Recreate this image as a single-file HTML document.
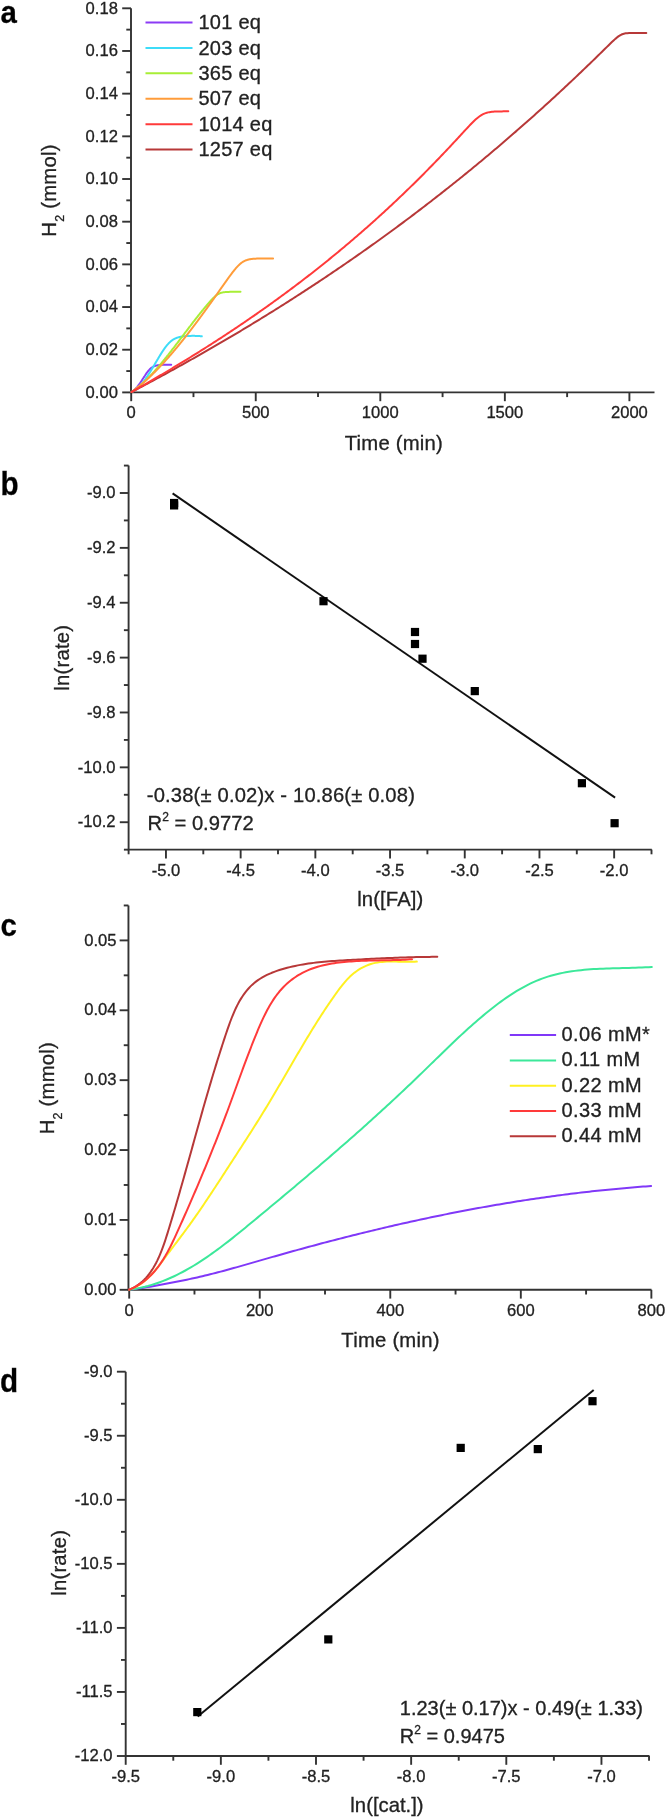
<!DOCTYPE html>
<html><head><meta charset="utf-8"><style>
html,body{margin:0;padding:0;background:#fff;}
svg{display:block;font-family:"Liberation Sans", sans-serif;will-change:transform;}
text{stroke:#222;stroke-width:0.3px;}
</style></head><body>
<svg width="666" height="1818" viewBox="0 0 666 1818">
<rect width="666" height="1818" fill="#fff"/>
<path d="M131.00 8.30 L131.00 392.40 L654.50 392.40" fill="none" stroke="#333" stroke-width="1.90" stroke-linejoin="miter"/>
<line x1="131.20" y1="392.40" x2="131.20" y2="401.20" stroke="#333" stroke-width="1.90"/>
<text x="131.20" y="418.40" font-size="16.60" text-anchor="middle" font-weight="normal" fill="#222" >0</text>
<line x1="255.75" y1="392.40" x2="255.75" y2="401.20" stroke="#333" stroke-width="1.90"/>
<text x="255.75" y="418.40" font-size="16.60" text-anchor="middle" font-weight="normal" fill="#222" >500</text>
<line x1="380.30" y1="392.40" x2="380.30" y2="401.20" stroke="#333" stroke-width="1.90"/>
<text x="380.30" y="418.40" font-size="16.60" text-anchor="middle" font-weight="normal" fill="#222" >1000</text>
<line x1="504.85" y1="392.40" x2="504.85" y2="401.20" stroke="#333" stroke-width="1.90"/>
<text x="504.85" y="418.40" font-size="16.60" text-anchor="middle" font-weight="normal" fill="#222" >1500</text>
<line x1="629.40" y1="392.40" x2="629.40" y2="401.20" stroke="#333" stroke-width="1.90"/>
<text x="629.40" y="418.40" font-size="16.60" text-anchor="middle" font-weight="normal" fill="#222" >2000</text>
<line x1="193.47" y1="392.40" x2="193.47" y2="397.10" stroke="#333" stroke-width="1.90"/>
<line x1="318.02" y1="392.40" x2="318.02" y2="397.10" stroke="#333" stroke-width="1.90"/>
<line x1="442.57" y1="392.40" x2="442.57" y2="397.10" stroke="#333" stroke-width="1.90"/>
<line x1="567.12" y1="392.40" x2="567.12" y2="397.10" stroke="#333" stroke-width="1.90"/>
<line x1="122.20" y1="392.40" x2="131.00" y2="392.40" stroke="#333" stroke-width="1.90"/>
<text x="117.90" y="397.60" font-size="16.60" text-anchor="end" font-weight="normal" fill="#222" >0.00</text>
<line x1="122.20" y1="349.72" x2="131.00" y2="349.72" stroke="#333" stroke-width="1.90"/>
<text x="117.90" y="354.92" font-size="16.60" text-anchor="end" font-weight="normal" fill="#222" >0.02</text>
<line x1="122.20" y1="307.04" x2="131.00" y2="307.04" stroke="#333" stroke-width="1.90"/>
<text x="117.90" y="312.24" font-size="16.60" text-anchor="end" font-weight="normal" fill="#222" >0.04</text>
<line x1="122.20" y1="264.37" x2="131.00" y2="264.37" stroke="#333" stroke-width="1.90"/>
<text x="117.90" y="269.57" font-size="16.60" text-anchor="end" font-weight="normal" fill="#222" >0.06</text>
<line x1="122.20" y1="221.69" x2="131.00" y2="221.69" stroke="#333" stroke-width="1.90"/>
<text x="117.90" y="226.89" font-size="16.60" text-anchor="end" font-weight="normal" fill="#222" >0.08</text>
<line x1="122.20" y1="179.01" x2="131.00" y2="179.01" stroke="#333" stroke-width="1.90"/>
<text x="117.90" y="184.21" font-size="16.60" text-anchor="end" font-weight="normal" fill="#222" >0.10</text>
<line x1="122.20" y1="136.33" x2="131.00" y2="136.33" stroke="#333" stroke-width="1.90"/>
<text x="117.90" y="141.53" font-size="16.60" text-anchor="end" font-weight="normal" fill="#222" >0.12</text>
<line x1="122.20" y1="93.65" x2="131.00" y2="93.65" stroke="#333" stroke-width="1.90"/>
<text x="117.90" y="98.85" font-size="16.60" text-anchor="end" font-weight="normal" fill="#222" >0.14</text>
<line x1="122.20" y1="50.98" x2="131.00" y2="50.98" stroke="#333" stroke-width="1.90"/>
<text x="117.90" y="56.18" font-size="16.60" text-anchor="end" font-weight="normal" fill="#222" >0.16</text>
<line x1="122.20" y1="8.30" x2="131.00" y2="8.30" stroke="#333" stroke-width="1.90"/>
<text x="117.90" y="13.50" font-size="16.60" text-anchor="end" font-weight="normal" fill="#222" >0.18</text>
<line x1="126.30" y1="371.06" x2="131.00" y2="371.06" stroke="#333" stroke-width="1.90"/>
<line x1="126.30" y1="328.38" x2="131.00" y2="328.38" stroke="#333" stroke-width="1.90"/>
<line x1="126.30" y1="285.70" x2="131.00" y2="285.70" stroke="#333" stroke-width="1.90"/>
<line x1="126.30" y1="243.03" x2="131.00" y2="243.03" stroke="#333" stroke-width="1.90"/>
<line x1="126.30" y1="200.35" x2="131.00" y2="200.35" stroke="#333" stroke-width="1.90"/>
<line x1="126.30" y1="157.67" x2="131.00" y2="157.67" stroke="#333" stroke-width="1.90"/>
<line x1="126.30" y1="114.99" x2="131.00" y2="114.99" stroke="#333" stroke-width="1.90"/>
<line x1="126.30" y1="72.31" x2="131.00" y2="72.31" stroke="#333" stroke-width="1.90"/>
<line x1="126.30" y1="29.64" x2="131.00" y2="29.64" stroke="#333" stroke-width="1.90"/>
<text x="393.90" y="450.30" font-size="20.30" text-anchor="middle" font-weight="normal" fill="#222" letter-spacing="0.22">Time (min)</text>
<text transform="translate(55.90 190.50) rotate(-90)" font-size="20.30" text-anchor="middle" fill="#222" letter-spacing="0.22">H<tspan font-size="12.5" dy="7.7">2</tspan><tspan dy="-7.7"> (mmol)</tspan></text>
<text transform="translate(0.50 22.50) scale(0.950 1)" font-size="31.00" text-anchor="start" font-weight="bold" fill="#000" stroke="#000" stroke-width="0.35">a</text>
<path d="M131.60 392.05 L131.73 391.98 L131.86 391.90 L132.00 391.82 L132.13 391.74 L132.26 391.66 L132.39 391.57 L132.53 391.48 L132.66 391.39 L132.79 391.29 L132.92 391.19 L133.06 391.10 L133.19 390.99 L133.32 390.89 L133.45 390.78 L133.59 390.67 L133.72 390.56 L133.85 390.45 L133.98 390.33 L134.12 390.21 L134.25 390.09 L134.38 389.97 L134.51 389.85 L134.65 389.72 L134.78 389.59 L134.91 389.46 L135.04 389.33 L135.18 389.19 L135.31 389.05 L135.44 388.91 L135.57 388.77 L135.71 388.63 L135.84 388.48 L135.97 388.34 L136.10 388.19 L136.24 388.04 L136.37 387.88 L136.50 387.73 L136.63 387.57 L136.77 387.42 L136.90 387.26 L137.03 387.10 L137.16 386.93 L137.29 386.77 L137.43 386.60 L137.56 386.43 L137.69 386.26 L137.82 386.09 L137.96 385.92 L138.09 385.75 L138.22 385.57 L138.35 385.39 L138.49 385.22 L138.62 385.04 L138.75 384.86 L138.88 384.67 L139.02 384.49 L139.15 384.31 L139.28 384.12 L139.41 383.93 L139.55 383.75 L139.68 383.56 L139.81 383.37 L139.94 383.17 L140.08 382.98 L140.21 382.79 L140.34 382.59 L140.47 382.40 L140.61 382.20 L140.74 382.01 L140.87 381.81 L141.00 381.61 L141.14 381.41 L141.27 381.21 L141.40 381.01 L141.53 380.81 L141.67 380.61 L141.80 380.41 L141.93 380.20 L142.06 380.00 L142.20 379.80 L142.33 379.59 L142.46 379.39 L142.59 379.19 L142.73 378.98 L142.86 378.78 L142.99 378.57 L143.12 378.37 L143.25 378.16 L143.39 377.96 L143.52 377.76 L143.65 377.55 L143.78 377.35 L143.92 377.14 L144.05 376.94 L144.18 376.74 L144.31 376.53 L144.45 376.33 L144.58 376.13 L144.71 375.93 L144.84 375.73 L144.98 375.53 L145.11 375.33 L145.24 375.13 L145.37 374.94 L145.51 374.74 L145.64 374.55 L145.77 374.35 L145.90 374.16 L146.04 373.97 L146.17 373.78 L146.30 373.59 L146.43 373.40 L146.57 373.22 L146.70 373.03 L146.83 372.85 L146.96 372.67 L147.10 372.49 L147.23 372.31 L147.36 372.13 L147.49 371.96 L147.63 371.79 L147.76 371.62 L147.89 371.45 L148.02 371.28 L148.16 371.12 L148.29 370.96 L148.42 370.80 L148.55 370.64 L148.68 370.49 L148.82 370.34 L148.95 370.19 L149.08 370.04 L149.21 369.89 L149.35 369.75 L149.48 369.61 L149.61 369.47 L149.74 369.34 L149.88 369.21 L150.01 369.08 L150.14 368.95 L150.27 368.82 L150.41 368.70 L150.54 368.58 L150.67 368.47 L150.80 368.35 L150.94 368.24 L151.07 368.13 L151.20 368.03 L151.33 367.92 L151.47 367.82 L151.60 367.72 L151.73 367.63 L151.86 367.53 L152.00 367.44 L152.13 367.35 L152.26 367.27 L152.39 367.18 L152.53 367.10 L152.66 367.02 L152.79 366.94 L152.92 366.87 L153.06 366.80 L153.19 366.73 L153.32 366.66 L153.45 366.59 L153.59 366.53 L153.72 366.46 L153.85 366.40 L153.98 366.34 L154.12 366.29 L154.25 366.23 L154.38 366.18 L154.51 366.13 L154.64 366.08 L154.78 366.03 L154.91 365.98 L155.04 365.94 L155.17 365.90 L155.31 365.85 L155.44 365.81 L155.57 365.77 L155.70 365.74 L155.84 365.70 L155.97 365.67 L156.10 365.63 L156.23 365.60 L156.37 365.57 L156.50 365.54 L156.63 365.51 L156.76 365.48 L156.90 365.45 L157.03 365.42 L157.16 365.40 L157.29 365.37 L157.43 365.35 L157.56 365.33 L157.69 365.30 L157.82 365.28 L157.96 365.26 L158.09 365.24 L158.22 365.22 L158.35 365.21 L158.49 365.19 L158.62 365.17 L158.75 365.15 L158.88 365.14 L159.02 365.12 L159.15 365.11 L159.28 365.09 L159.41 365.08 L159.55 365.07 L159.68 365.05 L159.81 365.04 L159.94 365.03 L160.07 365.02 L160.21 365.01 L160.34 365.00 L160.47 364.99 L160.60 364.98 L160.74 364.97 L160.87 364.96 L161.00 364.95 L161.13 364.94 L161.27 364.93 L161.40 364.92 L161.53 364.92 L161.66 364.91 L161.80 364.90 L161.93 364.90 L162.06 364.89 L162.19 364.88 L162.33 364.88 L162.46 364.87 L162.59 364.87 L162.72 364.86 L162.86 364.85 L162.99 364.85 L163.12 364.84 L163.25 364.84 L163.39 364.84 L163.52 364.83 L163.65 364.83 L163.78 364.82 L163.92 364.82 L164.05 364.82 L164.18 364.81 L164.31 364.81 L164.45 364.81 L164.58 364.80 L164.71 364.80 L164.84 364.80 L164.98 364.80 L165.11 364.79 L165.24 364.79 L165.37 364.79 L165.51 364.79 L165.64 364.78 L165.77 364.78 L165.90 364.78 L166.03 364.78 L166.17 364.78 L166.30 364.78 L166.43 364.77 L166.56 364.77 L166.70 364.77 L166.83 364.77 L166.96 364.77 L167.09 364.77 L167.23 364.77 L167.36 364.77 L167.49 364.77 L167.62 364.77 L167.76 364.77 L167.89 364.77 L168.02 364.77 L168.15 364.77 L168.29 364.77 L168.42 364.77 L168.55 364.77 L168.68 364.77 L168.82 364.77 L168.95 364.77 L169.08 364.77 L169.21 364.77 L169.35 364.77 L169.48 364.77 L169.61 364.77 L169.74 364.77 L169.88 364.77 L170.01 364.78 L170.14 364.78 L170.27 364.78 L170.41 364.78 L170.54 364.78 L170.67 364.78 L170.80 364.79 L170.94 364.79 L171.07 364.79 L171.20 364.79" fill="none" stroke="#8b3bf5" stroke-width="2.00" stroke-linecap="round" stroke-linejoin="round"/>
<path d="M131.60 392.01 L131.83 391.92 L132.07 391.83 L132.30 391.73 L132.54 391.62 L132.77 391.51 L133.01 391.40 L133.24 391.28 L133.48 391.15 L133.71 391.02 L133.95 390.89 L134.18 390.74 L134.42 390.60 L134.65 390.45 L134.89 390.29 L135.12 390.13 L135.36 389.97 L135.59 389.80 L135.83 389.62 L136.06 389.44 L136.30 389.26 L136.53 389.07 L136.77 388.88 L137.00 388.68 L137.23 388.48 L137.47 388.27 L137.70 388.06 L137.94 387.84 L138.17 387.62 L138.41 387.40 L138.64 387.17 L138.88 386.94 L139.11 386.70 L139.35 386.46 L139.58 386.22 L139.82 385.97 L140.05 385.72 L140.29 385.46 L140.52 385.20 L140.76 384.94 L140.99 384.67 L141.23 384.40 L141.46 384.13 L141.70 383.85 L141.93 383.57 L142.17 383.28 L142.40 382.99 L142.63 382.70 L142.87 382.40 L143.10 382.11 L143.34 381.80 L143.57 381.50 L143.81 381.19 L144.04 380.88 L144.28 380.57 L144.51 380.25 L144.75 379.93 L144.98 379.60 L145.22 379.28 L145.45 378.95 L145.69 378.62 L145.92 378.28 L146.16 377.95 L146.39 377.61 L146.63 377.26 L146.86 376.92 L147.10 376.57 L147.33 376.22 L147.57 375.87 L147.80 375.51 L148.03 375.16 L148.27 374.80 L148.50 374.44 L148.74 374.07 L148.97 373.71 L149.21 373.34 L149.44 372.97 L149.68 372.60 L149.91 372.23 L150.15 371.85 L150.38 371.48 L150.62 371.10 L150.85 370.72 L151.09 370.34 L151.32 369.96 L151.56 369.57 L151.79 369.19 L152.03 368.80 L152.26 368.41 L152.50 368.02 L152.73 367.63 L152.97 367.24 L153.20 366.85 L153.43 366.45 L153.67 366.06 L153.90 365.67 L154.14 365.27 L154.37 364.87 L154.61 364.48 L154.84 364.08 L155.08 363.68 L155.31 363.28 L155.55 362.89 L155.78 362.49 L156.02 362.09 L156.25 361.69 L156.49 361.29 L156.72 360.89 L156.96 360.50 L157.19 360.10 L157.43 359.70 L157.66 359.30 L157.90 358.91 L158.13 358.51 L158.37 358.12 L158.60 357.73 L158.83 357.33 L159.07 356.94 L159.30 356.55 L159.54 356.16 L159.77 355.78 L160.01 355.39 L160.24 355.01 L160.48 354.63 L160.71 354.25 L160.95 353.87 L161.18 353.49 L161.42 353.12 L161.65 352.75 L161.89 352.38 L162.12 352.01 L162.36 351.65 L162.59 351.29 L162.83 350.93 L163.06 350.58 L163.30 350.23 L163.53 349.88 L163.77 349.53 L164.00 349.19 L164.23 348.86 L164.47 348.52 L164.70 348.20 L164.94 347.87 L165.17 347.55 L165.41 347.23 L165.64 346.92 L165.88 346.61 L166.11 346.31 L166.35 346.01 L166.58 345.72 L166.82 345.43 L167.05 345.15 L167.29 344.87 L167.52 344.60 L167.76 344.33 L167.99 344.07 L168.23 343.81 L168.46 343.56 L168.70 343.31 L168.93 343.07 L169.17 342.83 L169.40 342.60 L169.63 342.37 L169.87 342.15 L170.10 341.94 L170.34 341.73 L170.57 341.52 L170.81 341.32 L171.04 341.13 L171.28 340.94 L171.51 340.76 L171.75 340.58 L171.98 340.40 L172.22 340.24 L172.45 340.07 L172.69 339.91 L172.92 339.76 L173.16 339.61 L173.39 339.47 L173.63 339.33 L173.86 339.19 L174.10 339.06 L174.33 338.93 L174.57 338.81 L174.80 338.69 L175.03 338.58 L175.27 338.47 L175.50 338.36 L175.74 338.26 L175.97 338.16 L176.21 338.06 L176.44 337.97 L176.68 337.88 L176.91 337.79 L177.15 337.71 L177.38 337.63 L177.62 337.56 L177.85 337.48 L178.09 337.41 L178.32 337.34 L178.56 337.27 L178.79 337.21 L179.03 337.15 L179.26 337.09 L179.50 337.03 L179.73 336.98 L179.97 336.93 L180.20 336.88 L180.43 336.83 L180.67 336.78 L180.90 336.74 L181.14 336.69 L181.37 336.65 L181.61 336.61 L181.84 336.57 L182.08 336.54 L182.31 336.50 L182.55 336.47 L182.78 336.44 L183.02 336.41 L183.25 336.38 L183.49 336.35 L183.72 336.32 L183.96 336.29 L184.19 336.27 L184.43 336.24 L184.66 336.22 L184.90 336.20 L185.13 336.18 L185.37 336.16 L185.60 336.14 L185.83 336.12 L186.07 336.10 L186.30 336.08 L186.54 336.07 L186.77 336.05 L187.01 336.04 L187.24 336.02 L187.48 336.01 L187.71 336.00 L187.95 335.99 L188.18 335.97 L188.42 335.96 L188.65 335.95 L188.89 335.94 L189.12 335.94 L189.36 335.93 L189.59 335.92 L189.83 335.91 L190.06 335.90 L190.30 335.90 L190.53 335.89 L190.77 335.89 L191.00 335.88 L191.23 335.88 L191.47 335.87 L191.70 335.87 L191.94 335.87 L192.17 335.87 L192.41 335.86 L192.64 335.86 L192.88 335.86 L193.11 335.86 L193.35 335.86 L193.58 335.86 L193.82 335.86 L194.05 335.87 L194.29 335.87 L194.52 335.87 L194.76 335.87 L194.99 335.88 L195.23 335.88 L195.46 335.89 L195.70 335.89 L195.93 335.90 L196.17 335.90 L196.40 335.91 L196.63 335.92 L196.87 335.93 L197.10 335.94 L197.34 335.95 L197.57 335.96 L197.81 335.97 L198.04 335.98 L198.28 336.00 L198.51 336.01 L198.75 336.02 L198.98 336.04 L199.22 336.06 L199.45 336.07 L199.69 336.09 L199.92 336.11 L200.16 336.14 L200.39 336.16 L200.63 336.18 L200.86 336.21 L201.10 336.23 L201.33 336.26 L201.57 336.29 L201.80 336.32" fill="none" stroke="#3ddcf8" stroke-width="2.00" stroke-linecap="round" stroke-linejoin="round"/>
<path d="M131.60 392.00 L131.96 391.76 L132.33 391.51 L132.69 391.27 L133.06 391.01 L133.42 390.76 L133.79 390.50 L134.15 390.24 L134.51 389.98 L134.88 389.71 L135.24 389.44 L135.61 389.16 L135.97 388.89 L136.33 388.61 L136.70 388.32 L137.06 388.04 L137.43 387.75 L137.79 387.45 L138.16 387.16 L138.52 386.86 L138.88 386.56 L139.25 386.26 L139.61 385.95 L139.98 385.64 L140.34 385.32 L140.71 385.01 L141.07 384.69 L141.43 384.37 L141.80 384.04 L142.16 383.72 L142.53 383.39 L142.89 383.06 L143.25 382.72 L143.62 382.38 L143.98 382.04 L144.35 381.70 L144.71 381.36 L145.08 381.01 L145.44 380.66 L145.80 380.30 L146.17 379.95 L146.53 379.59 L146.90 379.23 L147.26 378.87 L147.63 378.50 L147.99 378.14 L148.35 377.77 L148.72 377.39 L149.08 377.02 L149.45 376.64 L149.81 376.26 L150.17 375.88 L150.54 375.50 L150.90 375.12 L151.27 374.73 L151.63 374.34 L152.00 373.95 L152.36 373.55 L152.72 373.16 L153.09 372.76 L153.45 372.36 L153.82 371.96 L154.18 371.55 L154.55 371.15 L154.91 370.74 L155.27 370.33 L155.64 369.92 L156.00 369.51 L156.37 369.09 L156.73 368.68 L157.09 368.26 L157.46 367.84 L157.82 367.42 L158.19 366.99 L158.55 366.57 L158.92 366.14 L159.28 365.71 L159.64 365.28 L160.01 364.85 L160.37 364.42 L160.74 363.99 L161.10 363.55 L161.47 363.11 L161.83 362.67 L162.19 362.23 L162.56 361.79 L162.92 361.35 L163.29 360.90 L163.65 360.46 L164.02 360.01 L164.38 359.56 L164.74 359.11 L165.11 358.66 L165.47 358.21 L165.84 357.76 L166.20 357.30 L166.56 356.85 L166.93 356.39 L167.29 355.94 L167.66 355.48 L168.02 355.02 L168.39 354.56 L168.75 354.09 L169.11 353.63 L169.48 353.17 L169.84 352.70 L170.21 352.24 L170.57 351.77 L170.94 351.31 L171.30 350.84 L171.66 350.37 L172.03 349.90 L172.39 349.43 L172.76 348.96 L173.12 348.49 L173.48 348.02 L173.85 347.54 L174.21 347.07 L174.58 346.60 L174.94 346.12 L175.31 345.65 L175.67 345.17 L176.03 344.70 L176.40 344.22 L176.76 343.74 L177.13 343.26 L177.49 342.79 L177.86 342.31 L178.22 341.83 L178.58 341.35 L178.95 340.87 L179.31 340.39 L179.68 339.91 L180.04 339.43 L180.40 338.95 L180.77 338.47 L181.13 337.99 L181.50 337.51 L181.86 337.03 L182.23 336.55 L182.59 336.07 L182.95 335.59 L183.32 335.11 L183.68 334.63 L184.05 334.15 L184.41 333.66 L184.78 333.18 L185.14 332.70 L185.50 332.22 L185.87 331.74 L186.23 331.26 L186.60 330.78 L186.96 330.30 L187.32 329.82 L187.69 329.34 L188.05 328.86 L188.42 328.38 L188.78 327.91 L189.15 327.43 L189.51 326.95 L189.87 326.47 L190.24 326.00 L190.60 325.52 L190.97 325.04 L191.33 324.57 L191.70 324.09 L192.06 323.62 L192.42 323.15 L192.79 322.67 L193.15 322.20 L193.52 321.73 L193.88 321.26 L194.24 320.79 L194.61 320.32 L194.97 319.85 L195.34 319.38 L195.70 318.91 L196.07 318.45 L196.43 317.98 L196.79 317.52 L197.16 317.05 L197.52 316.59 L197.89 316.13 L198.25 315.67 L198.62 315.21 L198.98 314.75 L199.34 314.29 L199.71 313.83 L200.07 313.38 L200.44 312.92 L200.80 312.47 L201.16 312.02 L201.53 311.57 L201.89 311.12 L202.26 310.67 L202.62 310.22 L202.99 309.78 L203.35 309.33 L203.71 308.89 L204.08 308.45 L204.44 308.01 L204.81 307.57 L205.17 307.13 L205.54 306.70 L205.90 306.27 L206.26 305.83 L206.63 305.40 L206.99 304.98 L207.36 304.55 L207.72 304.13 L208.08 303.71 L208.45 303.29 L208.81 302.87 L209.18 302.46 L209.54 302.05 L209.91 301.64 L210.27 301.24 L210.63 300.84 L211.00 300.44 L211.36 300.05 L211.73 299.66 L212.09 299.28 L212.46 298.90 L212.82 298.53 L213.18 298.17 L213.55 297.81 L213.91 297.46 L214.28 297.12 L214.64 296.78 L215.01 296.46 L215.37 296.14 L215.73 295.84 L216.10 295.55 L216.46 295.27 L216.83 295.00 L217.19 294.74 L217.55 294.50 L217.92 294.27 L218.28 294.05 L218.65 293.85 L219.01 293.66 L219.38 293.49 L219.74 293.32 L220.10 293.17 L220.47 293.04 L220.83 292.91 L221.20 292.80 L221.56 292.69 L221.93 292.60 L222.29 292.51 L222.65 292.44 L223.02 292.37 L223.38 292.31 L223.75 292.25 L224.11 292.20 L224.47 292.16 L224.84 292.12 L225.20 292.08 L225.57 292.05 L225.93 292.02 L226.30 292.00 L226.66 291.98 L227.02 291.96 L227.39 291.94 L227.75 291.92 L228.12 291.91 L228.48 291.90 L228.85 291.89 L229.21 291.88 L229.57 291.87 L229.94 291.86 L230.30 291.85 L230.67 291.85 L231.03 291.84 L231.39 291.83 L231.76 291.83 L232.12 291.83 L232.49 291.82 L232.85 291.82 L233.22 291.82 L233.58 291.81 L233.94 291.81 L234.31 291.81 L234.67 291.81 L235.04 291.80 L235.40 291.80 L235.77 291.80 L236.13 291.80 L236.49 291.80 L236.86 291.80 L237.22 291.80 L237.59 291.80 L237.95 291.80 L238.31 291.79 L238.68 291.79 L239.04 291.79 L239.41 291.79 L239.77 291.79 L240.14 291.79 L240.50 291.79" fill="none" stroke="#a8ee36" stroke-width="2.00" stroke-linecap="round" stroke-linejoin="round"/>
<path d="M131.60 392.00 L132.07 391.66 L132.55 391.32 L133.02 390.97 L133.49 390.62 L133.97 390.27 L134.44 389.91 L134.91 389.55 L135.39 389.19 L135.86 388.83 L136.33 388.46 L136.81 388.09 L137.28 387.72 L137.75 387.34 L138.23 386.96 L138.70 386.58 L139.17 386.19 L139.65 385.80 L140.12 385.41 L140.59 385.02 L141.06 384.62 L141.54 384.22 L142.01 383.82 L142.48 383.42 L142.96 383.01 L143.43 382.60 L143.90 382.19 L144.38 381.77 L144.85 381.35 L145.32 380.93 L145.80 380.51 L146.27 380.08 L146.74 379.65 L147.22 379.22 L147.69 378.78 L148.16 378.35 L148.64 377.91 L149.11 377.46 L149.58 377.02 L150.06 376.57 L150.53 376.12 L151.00 375.67 L151.48 375.21 L151.95 374.76 L152.42 374.30 L152.90 373.83 L153.37 373.37 L153.84 372.90 L154.32 372.43 L154.79 371.96 L155.26 371.48 L155.74 371.01 L156.21 370.53 L156.68 370.04 L157.16 369.56 L157.63 369.07 L158.10 368.58 L158.57 368.09 L159.05 367.60 L159.52 367.10 L159.99 366.60 L160.47 366.10 L160.94 365.60 L161.41 365.09 L161.89 364.59 L162.36 364.08 L162.83 363.57 L163.31 363.05 L163.78 362.54 L164.25 362.02 L164.73 361.50 L165.20 360.98 L165.67 360.45 L166.15 359.92 L166.62 359.40 L167.09 358.87 L167.57 358.33 L168.04 357.80 L168.51 357.26 L168.99 356.72 L169.46 356.18 L169.93 355.64 L170.41 355.09 L170.88 354.55 L171.35 354.00 L171.83 353.45 L172.30 352.89 L172.77 352.34 L173.25 351.78 L173.72 351.22 L174.19 350.66 L174.67 350.10 L175.14 349.54 L175.61 348.97 L176.08 348.41 L176.56 347.84 L177.03 347.27 L177.50 346.69 L177.98 346.12 L178.45 345.54 L178.92 344.96 L179.40 344.38 L179.87 343.80 L180.34 343.22 L180.82 342.63 L181.29 342.05 L181.76 341.46 L182.24 340.87 L182.71 340.28 L183.18 339.69 L183.66 339.09 L184.13 338.50 L184.60 337.90 L185.08 337.30 L185.55 336.70 L186.02 336.10 L186.50 335.49 L186.97 334.89 L187.44 334.28 L187.92 333.67 L188.39 333.06 L188.86 332.45 L189.34 331.84 L189.81 331.23 L190.28 330.61 L190.76 329.99 L191.23 329.38 L191.70 328.76 L192.18 328.14 L192.65 327.52 L193.12 326.89 L193.59 326.27 L194.07 325.64 L194.54 325.01 L195.01 324.39 L195.49 323.76 L195.96 323.13 L196.43 322.49 L196.91 321.86 L197.38 321.23 L197.85 320.59 L198.33 319.95 L198.80 319.32 L199.27 318.68 L199.75 318.04 L200.22 317.40 L200.69 316.75 L201.17 316.11 L201.64 315.47 L202.11 314.82 L202.59 314.18 L203.06 313.53 L203.53 312.88 L204.01 312.23 L204.48 311.58 L204.95 310.93 L205.43 310.28 L205.90 309.62 L206.37 308.97 L206.85 308.31 L207.32 307.66 L207.79 307.00 L208.27 306.34 L208.74 305.69 L209.21 305.03 L209.69 304.37 L210.16 303.71 L210.63 303.05 L211.11 302.38 L211.58 301.72 L212.05 301.06 L212.52 300.39 L213.00 299.73 L213.47 299.06 L213.94 298.40 L214.42 297.73 L214.89 297.06 L215.36 296.39 L215.84 295.73 L216.31 295.06 L216.78 294.39 L217.26 293.72 L217.73 293.05 L218.20 292.38 L218.68 291.71 L219.15 291.04 L219.62 290.37 L220.10 289.69 L220.57 289.02 L221.04 288.35 L221.52 287.68 L221.99 287.01 L222.46 286.34 L222.94 285.67 L223.41 285.00 L223.88 284.33 L224.36 283.66 L224.83 282.99 L225.30 282.32 L225.78 281.66 L226.25 280.99 L226.72 280.33 L227.20 279.67 L227.67 279.01 L228.14 278.35 L228.62 277.70 L229.09 277.04 L229.56 276.39 L230.03 275.75 L230.51 275.11 L230.98 274.47 L231.45 273.84 L231.93 273.21 L232.40 272.59 L232.87 271.97 L233.35 271.37 L233.82 270.77 L234.29 270.18 L234.77 269.60 L235.24 269.03 L235.71 268.47 L236.19 267.92 L236.66 267.38 L237.13 266.86 L237.61 266.35 L238.08 265.86 L238.55 265.38 L239.03 264.92 L239.50 264.48 L239.97 264.06 L240.45 263.65 L240.92 263.27 L241.39 262.90 L241.87 262.55 L242.34 262.22 L242.81 261.91 L243.29 261.62 L243.76 261.35 L244.23 261.10 L244.71 260.86 L245.18 260.65 L245.65 260.45 L246.13 260.26 L246.60 260.09 L247.07 259.93 L247.54 259.79 L248.02 259.66 L248.49 259.54 L248.96 259.43 L249.44 259.33 L249.91 259.24 L250.38 259.16 L250.86 259.08 L251.33 259.02 L251.80 258.96 L252.28 258.90 L252.75 258.86 L253.22 258.81 L253.70 258.77 L254.17 258.74 L254.64 258.70 L255.12 258.68 L255.59 258.65 L256.06 258.63 L256.54 258.61 L257.01 258.59 L257.48 258.57 L257.96 258.56 L258.43 258.54 L258.90 258.53 L259.38 258.52 L259.85 258.51 L260.32 258.50 L260.80 258.49 L261.27 258.49 L261.74 258.48 L262.22 258.48 L262.69 258.47 L263.16 258.47 L263.64 258.46 L264.11 258.46 L264.58 258.46 L265.05 258.45 L265.53 258.45 L266.00 258.45 L266.47 258.45 L266.95 258.44 L267.42 258.44 L267.89 258.44 L268.37 258.44 L268.84 258.44 L269.31 258.44 L269.79 258.44 L270.26 258.43 L270.73 258.43 L271.21 258.43 L271.68 258.43 L272.15 258.43 L272.63 258.43 L273.10 258.43" fill="none" stroke="#ff9c3a" stroke-width="2.00" stroke-linecap="round" stroke-linejoin="round"/>
<path d="M131.60 392.00 L133.32 391.10 L135.04 390.19 L136.76 389.28 L138.49 388.37 L140.21 387.46 L141.93 386.55 L143.65 385.63 L145.37 384.71 L147.09 383.80 L148.81 382.87 L150.54 381.95 L152.26 381.03 L153.98 380.10 L155.70 379.17 L157.42 378.24 L159.14 377.31 L160.86 376.38 L162.59 375.44 L164.31 374.51 L166.03 373.57 L167.75 372.63 L169.47 371.68 L171.19 370.74 L172.91 369.79 L174.64 368.84 L176.36 367.89 L178.08 366.94 L179.80 365.99 L181.52 365.03 L183.24 364.07 L184.96 363.11 L186.68 362.15 L188.41 361.19 L190.13 360.22 L191.85 359.25 L193.57 358.28 L195.29 357.31 L197.01 356.33 L198.73 355.36 L200.46 354.38 L202.18 353.40 L203.90 352.41 L205.62 351.43 L207.34 350.44 L209.06 349.45 L210.78 348.46 L212.51 347.47 L214.23 346.47 L215.95 345.48 L217.67 344.48 L219.39 343.48 L221.11 342.47 L222.83 341.47 L224.56 340.46 L226.28 339.45 L228.00 338.43 L229.72 337.42 L231.44 336.40 L233.16 335.38 L234.88 334.36 L236.61 333.34 L238.33 332.31 L240.05 331.28 L241.77 330.25 L243.49 329.22 L245.21 328.19 L246.93 327.15 L248.66 326.11 L250.38 325.07 L252.10 324.02 L253.82 322.98 L255.54 321.93 L257.26 320.88 L258.98 319.82 L260.71 318.77 L262.43 317.71 L264.15 316.65 L265.87 315.58 L267.59 314.52 L269.31 313.45 L271.03 312.38 L272.76 311.31 L274.48 310.23 L276.20 309.16 L277.92 308.08 L279.64 306.99 L281.36 305.91 L283.08 304.82 L284.81 303.73 L286.53 302.64 L288.25 301.55 L289.97 300.45 L291.69 299.35 L293.41 298.25 L295.13 297.14 L296.85 296.03 L298.58 294.92 L300.30 293.81 L302.02 292.70 L303.74 291.58 L305.46 290.46 L307.18 289.34 L308.90 288.21 L310.63 287.08 L312.35 285.95 L314.07 284.82 L315.79 283.68 L317.51 282.55 L319.23 281.40 L320.95 280.26 L322.68 279.11 L324.40 277.97 L326.12 276.81 L327.84 275.66 L329.56 274.50 L331.28 273.34 L333.00 272.18 L334.73 271.02 L336.45 269.85 L338.17 268.68 L339.89 267.50 L341.61 266.33 L343.33 265.15 L345.05 263.97 L346.78 262.78 L348.50 261.60 L350.22 260.41 L351.94 259.21 L353.66 258.02 L355.38 256.82 L357.10 255.62 L358.83 254.41 L360.55 253.21 L362.27 252.00 L363.99 250.78 L365.71 249.57 L367.43 248.35 L369.15 247.13 L370.88 245.91 L372.60 244.68 L374.32 243.45 L376.04 242.22 L377.76 240.98 L379.48 239.74 L381.20 238.50 L382.93 237.25 L384.65 236.01 L386.37 234.76 L388.09 233.50 L389.81 232.25 L391.53 230.99 L393.25 229.72 L394.97 228.46 L396.70 227.19 L398.42 225.92 L400.14 224.64 L401.86 223.36 L403.58 222.08 L405.30 220.80 L407.02 219.51 L408.75 218.22 L410.47 216.93 L412.19 215.63 L413.91 214.33 L415.63 213.03 L417.35 211.73 L419.07 210.42 L420.80 209.11 L422.52 207.79 L424.24 206.47 L425.96 205.15 L427.68 203.83 L429.40 202.50 L431.12 201.17 L432.85 199.83 L434.57 198.50 L436.29 197.16 L438.01 195.81 L439.73 194.47 L441.45 193.12 L443.17 191.76 L444.90 190.41 L446.62 189.05 L448.34 187.68 L450.06 186.32 L451.78 184.95 L453.50 183.57 L455.22 182.20 L456.95 180.82 L458.67 179.43 L460.39 178.05 L462.11 176.66 L463.83 175.26 L465.55 173.87 L467.27 172.47 L469.00 171.06 L470.72 169.66 L472.44 168.25 L474.16 166.83 L475.88 165.42 L477.60 164.00 L479.32 162.57 L481.05 161.15 L482.77 159.72 L484.49 158.28 L486.21 156.84 L487.93 155.40 L489.65 153.96 L491.37 152.51 L493.09 151.06 L494.82 149.60 L496.54 148.15 L498.26 146.68 L499.98 145.22 L501.70 143.75 L503.42 142.28 L505.14 140.80 L506.87 139.32 L508.59 137.84 L510.31 136.35 L512.03 134.86 L513.75 133.36 L515.47 131.87 L517.19 130.37 L518.92 128.86 L520.64 127.35 L522.36 125.84 L524.08 124.32 L525.80 122.80 L527.52 121.28 L529.24 119.75 L530.97 118.22 L532.69 116.69 L534.41 115.15 L536.13 113.61 L537.85 112.06 L539.57 110.52 L541.29 108.96 L543.02 107.41 L544.74 105.85 L546.46 104.28 L548.18 102.71 L549.90 101.14 L551.62 99.57 L553.34 97.99 L555.07 96.40 L556.79 94.82 L558.51 93.23 L560.23 91.63 L561.95 90.03 L563.67 88.43 L565.39 86.83 L567.12 85.22 L568.84 83.60 L570.56 81.98 L572.28 80.36 L574.00 78.74 L575.72 77.11 L577.44 75.47 L579.17 73.84 L580.89 72.20 L582.61 70.55 L584.33 68.90 L586.05 67.25 L587.77 65.59 L589.49 63.93 L591.22 62.27 L592.94 60.60 L594.66 58.92 L596.38 57.25 L598.10 55.57 L599.82 53.88 L601.54 52.20 L603.26 50.50 L604.99 48.81 L606.71 47.12 L608.43 45.43 L610.15 43.74 L611.87 42.07 L613.59 40.44 L615.31 38.87 L617.04 37.41 L618.76 36.11 L620.48 35.04 L622.20 34.23 L623.92 33.68 L625.64 33.34 L627.36 33.14 L629.09 33.02 L630.81 32.96 L632.53 32.93 L634.25 32.91 L635.97 32.90 L637.69 32.89 L639.41 32.89 L641.14 32.89 L642.86 32.89 L644.58 32.89 L646.30 32.89" fill="none" stroke="#b73838" stroke-width="2.00" stroke-linecap="round" stroke-linejoin="round"/>
<path d="M131.60 392.00 L132.86 391.28 L134.12 390.57 L135.38 389.85 L136.64 389.13 L137.90 388.41 L139.16 387.69 L140.42 386.96 L141.68 386.24 L142.94 385.51 L144.20 384.79 L145.46 384.06 L146.72 383.33 L147.98 382.60 L149.24 381.87 L150.50 381.14 L151.76 380.40 L153.02 379.67 L154.28 378.93 L155.54 378.20 L156.80 377.46 L158.06 376.72 L159.32 375.98 L160.58 375.23 L161.84 374.49 L163.10 373.74 L164.36 373.00 L165.62 372.25 L166.88 371.50 L168.14 370.75 L169.40 370.00 L170.66 369.24 L171.92 368.49 L173.18 367.73 L174.44 366.97 L175.70 366.21 L176.96 365.45 L178.22 364.69 L179.47 363.92 L180.73 363.16 L181.99 362.39 L183.25 361.62 L184.51 360.85 L185.77 360.08 L187.03 359.31 L188.29 358.53 L189.55 357.76 L190.81 356.98 L192.07 356.20 L193.33 355.42 L194.59 354.64 L195.85 353.85 L197.11 353.07 L198.37 352.28 L199.63 351.49 L200.89 350.70 L202.15 349.91 L203.41 349.11 L204.67 348.32 L205.93 347.52 L207.19 346.72 L208.45 345.92 L209.71 345.11 L210.97 344.31 L212.23 343.50 L213.49 342.69 L214.75 341.88 L216.01 341.07 L217.27 340.26 L218.53 339.44 L219.79 338.62 L221.05 337.80 L222.31 336.98 L223.57 336.16 L224.83 335.33 L226.09 334.51 L227.35 333.68 L228.61 332.85 L229.87 332.01 L231.13 331.18 L232.39 330.34 L233.65 329.50 L234.91 328.66 L236.17 327.82 L237.43 326.98 L238.69 326.13 L239.95 325.28 L241.21 324.43 L242.47 323.58 L243.73 322.72 L244.99 321.87 L246.25 321.01 L247.51 320.15 L248.77 319.28 L250.03 318.42 L251.29 317.55 L252.55 316.68 L253.81 315.81 L255.07 314.93 L256.33 314.06 L257.59 313.18 L258.85 312.30 L260.11 311.42 L261.37 310.53 L262.63 309.64 L263.89 308.75 L265.15 307.86 L266.41 306.97 L267.67 306.07 L268.93 305.17 L270.19 304.27 L271.45 303.37 L272.71 302.47 L273.96 301.56 L275.22 300.65 L276.48 299.74 L277.74 298.82 L279.00 297.90 L280.26 296.98 L281.52 296.06 L282.78 295.14 L284.04 294.21 L285.30 293.28 L286.56 292.35 L287.82 291.42 L289.08 290.48 L290.34 289.54 L291.60 288.60 L292.86 287.65 L294.12 286.71 L295.38 285.76 L296.64 284.81 L297.90 283.85 L299.16 282.90 L300.42 281.94 L301.68 280.97 L302.94 280.01 L304.20 279.04 L305.46 278.07 L306.72 277.10 L307.98 276.13 L309.24 275.15 L310.50 274.17 L311.76 273.19 L313.02 272.20 L314.28 271.21 L315.54 270.22 L316.80 269.23 L318.06 268.23 L319.32 267.23 L320.58 266.23 L321.84 265.22 L323.10 264.22 L324.36 263.21 L325.62 262.19 L326.88 261.18 L328.14 260.16 L329.40 259.14 L330.66 258.11 L331.92 257.09 L333.18 256.06 L334.44 255.02 L335.70 253.99 L336.96 252.95 L338.22 251.91 L339.48 250.86 L340.74 249.82 L342.00 248.77 L343.26 247.71 L344.52 246.66 L345.78 245.60 L347.04 244.54 L348.30 243.47 L349.56 242.40 L350.82 241.33 L352.08 240.26 L353.34 239.18 L354.60 238.10 L355.86 237.02 L357.12 235.93 L358.38 234.84 L359.64 233.75 L360.90 232.65 L362.16 231.55 L363.42 230.45 L364.68 229.35 L365.94 228.24 L367.19 227.13 L368.45 226.01 L369.71 224.90 L370.97 223.77 L372.23 222.65 L373.49 221.52 L374.75 220.39 L376.01 219.26 L377.27 218.12 L378.53 216.98 L379.79 215.84 L381.05 214.69 L382.31 213.54 L383.57 212.39 L384.83 211.23 L386.09 210.07 L387.35 208.91 L388.61 207.74 L389.87 206.57 L391.13 205.40 L392.39 204.22 L393.65 203.04 L394.91 201.86 L396.17 200.67 L397.43 199.48 L398.69 198.28 L399.95 197.09 L401.21 195.89 L402.47 194.68 L403.73 193.47 L404.99 192.26 L406.25 191.05 L407.51 189.83 L408.77 188.61 L410.03 187.38 L411.29 186.15 L412.55 184.92 L413.81 183.68 L415.07 182.44 L416.33 181.20 L417.59 179.95 L418.85 178.70 L420.11 177.45 L421.37 176.19 L422.63 174.93 L423.89 173.67 L425.15 172.40 L426.41 171.12 L427.67 169.85 L428.93 168.57 L430.19 167.28 L431.45 166.00 L432.71 164.71 L433.97 163.41 L435.23 162.11 L436.49 160.81 L437.75 159.50 L439.01 158.19 L440.27 156.88 L441.53 155.56 L442.79 154.24 L444.05 152.92 L445.31 151.59 L446.57 150.26 L447.83 148.92 L449.09 147.58 L450.35 146.24 L451.61 144.89 L452.87 143.54 L454.13 142.19 L455.39 140.83 L456.65 139.47 L457.91 138.11 L459.17 136.74 L460.43 135.38 L461.68 134.01 L462.94 132.64 L464.20 131.28 L465.46 129.92 L466.72 128.56 L467.98 127.21 L469.24 125.87 L470.50 124.55 L471.76 123.26 L473.02 121.99 L474.28 120.76 L475.54 119.59 L476.80 118.47 L478.06 117.42 L479.32 116.45 L480.58 115.58 L481.84 114.81 L483.10 114.14 L484.36 113.57 L485.62 113.09 L486.88 112.70 L488.14 112.39 L489.40 112.14 L490.66 111.95 L491.92 111.80 L493.18 111.68 L494.44 111.60 L495.70 111.53 L496.96 111.48 L498.22 111.44 L499.48 111.41 L500.74 111.39 L502.00 111.38 L503.26 111.37 L504.52 111.36 L505.78 111.35 L507.04 111.35 L508.30 111.34" fill="none" stroke="#ff3a3a" stroke-width="2.00" stroke-linecap="round" stroke-linejoin="round"/>
<line x1="145.5" y1="22.50" x2="192.5" y2="22.50" stroke="#8b3bf5" stroke-width="2.0"/>
<text x="198.50" y="29.20" font-size="20.00" text-anchor="start" font-weight="normal" fill="#222" letter-spacing="0.25">101 eq</text>
<line x1="145.5" y1="47.92" x2="192.5" y2="47.92" stroke="#3ddcf8" stroke-width="2.0"/>
<text x="198.50" y="54.62" font-size="20.00" text-anchor="start" font-weight="normal" fill="#222" letter-spacing="0.25">203 eq</text>
<line x1="145.5" y1="73.34" x2="192.5" y2="73.34" stroke="#a8ee36" stroke-width="2.0"/>
<text x="198.50" y="80.04" font-size="20.00" text-anchor="start" font-weight="normal" fill="#222" letter-spacing="0.25">365 eq</text>
<line x1="145.5" y1="98.76" x2="192.5" y2="98.76" stroke="#ff9c3a" stroke-width="2.0"/>
<text x="198.50" y="105.46" font-size="20.00" text-anchor="start" font-weight="normal" fill="#222" letter-spacing="0.25">507 eq</text>
<line x1="145.5" y1="124.18" x2="192.5" y2="124.18" stroke="#ff3a3a" stroke-width="2.0"/>
<text x="198.50" y="130.88" font-size="20.00" text-anchor="start" font-weight="normal" fill="#222" letter-spacing="0.25">1014 eq</text>
<line x1="145.5" y1="149.60" x2="192.5" y2="149.60" stroke="#b73838" stroke-width="2.0"/>
<text x="198.50" y="156.30" font-size="20.00" text-anchor="start" font-weight="normal" fill="#222" letter-spacing="0.25">1257 eq</text>
<path d="M128.60 465.57 L128.60 849.60 L651.80 849.60" fill="none" stroke="#333" stroke-width="1.90" stroke-linejoin="miter"/>
<line x1="165.95" y1="849.60" x2="165.95" y2="858.40" stroke="#333" stroke-width="1.90"/>
<text x="165.95" y="875.80" font-size="16.60" text-anchor="middle" font-weight="normal" fill="#222" >-5.0</text>
<line x1="240.65" y1="849.60" x2="240.65" y2="858.40" stroke="#333" stroke-width="1.90"/>
<text x="240.65" y="875.80" font-size="16.60" text-anchor="middle" font-weight="normal" fill="#222" >-4.5</text>
<line x1="315.35" y1="849.60" x2="315.35" y2="858.40" stroke="#333" stroke-width="1.90"/>
<text x="315.35" y="875.80" font-size="16.60" text-anchor="middle" font-weight="normal" fill="#222" >-4.0</text>
<line x1="390.05" y1="849.60" x2="390.05" y2="858.40" stroke="#333" stroke-width="1.90"/>
<text x="390.05" y="875.80" font-size="16.60" text-anchor="middle" font-weight="normal" fill="#222" >-3.5</text>
<line x1="464.75" y1="849.60" x2="464.75" y2="858.40" stroke="#333" stroke-width="1.90"/>
<text x="464.75" y="875.80" font-size="16.60" text-anchor="middle" font-weight="normal" fill="#222" >-3.0</text>
<line x1="539.45" y1="849.60" x2="539.45" y2="858.40" stroke="#333" stroke-width="1.90"/>
<text x="539.45" y="875.80" font-size="16.60" text-anchor="middle" font-weight="normal" fill="#222" >-2.5</text>
<line x1="614.15" y1="849.60" x2="614.15" y2="858.40" stroke="#333" stroke-width="1.90"/>
<text x="614.15" y="875.80" font-size="16.60" text-anchor="middle" font-weight="normal" fill="#222" >-2.0</text>
<line x1="128.60" y1="849.60" x2="128.60" y2="854.30" stroke="#333" stroke-width="1.90"/>
<line x1="203.30" y1="849.60" x2="203.30" y2="854.30" stroke="#333" stroke-width="1.90"/>
<line x1="278.00" y1="849.60" x2="278.00" y2="854.30" stroke="#333" stroke-width="1.90"/>
<line x1="352.70" y1="849.60" x2="352.70" y2="854.30" stroke="#333" stroke-width="1.90"/>
<line x1="427.40" y1="849.60" x2="427.40" y2="854.30" stroke="#333" stroke-width="1.90"/>
<line x1="502.10" y1="849.60" x2="502.10" y2="854.30" stroke="#333" stroke-width="1.90"/>
<line x1="576.80" y1="849.60" x2="576.80" y2="854.30" stroke="#333" stroke-width="1.90"/>
<line x1="651.50" y1="849.60" x2="651.50" y2="854.30" stroke="#333" stroke-width="1.90"/>
<line x1="119.80" y1="493.00" x2="128.60" y2="493.00" stroke="#333" stroke-width="1.90"/>
<text x="115.50" y="498.20" font-size="16.60" text-anchor="end" font-weight="normal" fill="#222" >-9.0</text>
<line x1="119.80" y1="547.87" x2="128.60" y2="547.87" stroke="#333" stroke-width="1.90"/>
<text x="115.50" y="553.07" font-size="16.60" text-anchor="end" font-weight="normal" fill="#222" >-9.2</text>
<line x1="119.80" y1="602.74" x2="128.60" y2="602.74" stroke="#333" stroke-width="1.90"/>
<text x="115.50" y="607.94" font-size="16.60" text-anchor="end" font-weight="normal" fill="#222" >-9.4</text>
<line x1="119.80" y1="657.61" x2="128.60" y2="657.61" stroke="#333" stroke-width="1.90"/>
<text x="115.50" y="662.81" font-size="16.60" text-anchor="end" font-weight="normal" fill="#222" >-9.6</text>
<line x1="119.80" y1="712.48" x2="128.60" y2="712.48" stroke="#333" stroke-width="1.90"/>
<text x="115.50" y="717.68" font-size="16.60" text-anchor="end" font-weight="normal" fill="#222" >-9.8</text>
<line x1="119.80" y1="767.35" x2="128.60" y2="767.35" stroke="#333" stroke-width="1.90"/>
<text x="115.50" y="772.55" font-size="16.60" text-anchor="end" font-weight="normal" fill="#222" >-10.0</text>
<line x1="119.80" y1="822.22" x2="128.60" y2="822.22" stroke="#333" stroke-width="1.90"/>
<text x="115.50" y="827.42" font-size="16.60" text-anchor="end" font-weight="normal" fill="#222" >-10.2</text>
<line x1="123.90" y1="465.57" x2="128.60" y2="465.57" stroke="#333" stroke-width="1.90"/>
<line x1="123.90" y1="520.43" x2="128.60" y2="520.43" stroke="#333" stroke-width="1.90"/>
<line x1="123.90" y1="575.31" x2="128.60" y2="575.31" stroke="#333" stroke-width="1.90"/>
<line x1="123.90" y1="630.17" x2="128.60" y2="630.17" stroke="#333" stroke-width="1.90"/>
<line x1="123.90" y1="685.04" x2="128.60" y2="685.04" stroke="#333" stroke-width="1.90"/>
<line x1="123.90" y1="739.92" x2="128.60" y2="739.92" stroke="#333" stroke-width="1.90"/>
<line x1="123.90" y1="794.78" x2="128.60" y2="794.78" stroke="#333" stroke-width="1.90"/>
<line x1="123.90" y1="849.66" x2="128.60" y2="849.66" stroke="#333" stroke-width="1.90"/>
<text x="390.30" y="906.00" font-size="20.30" text-anchor="middle" font-weight="normal" fill="#222" letter-spacing="0.1">ln([FA])</text>
<text transform="translate(68.90 657.70) rotate(-90)" font-size="20.30" text-anchor="middle" fill="#222" letter-spacing="0.22">ln(rate)</text>
<text transform="translate(0.50 494.80) scale(0.900 1)" font-size="33.00" text-anchor="start" font-weight="bold" fill="#000" stroke="#000" stroke-width="0.35">b</text>
<line x1="172.6" y1="493.4" x2="615.1" y2="797.6" stroke="#111" stroke-width="2"/>
<rect x="170.00" y="498.90" width="8.20" height="8.20" fill="#000"/>
<rect x="170.00" y="501.30" width="8.20" height="8.20" fill="#000"/>
<rect x="319.40" y="597.10" width="8.20" height="8.20" fill="#000"/>
<rect x="410.90" y="627.90" width="8.20" height="8.20" fill="#000"/>
<rect x="410.90" y="639.90" width="8.20" height="8.20" fill="#000"/>
<rect x="418.40" y="654.60" width="8.20" height="8.20" fill="#000"/>
<rect x="470.70" y="687.00" width="8.20" height="8.20" fill="#000"/>
<rect x="577.80" y="779.10" width="8.20" height="8.20" fill="#000"/>
<rect x="610.50" y="819.10" width="8.20" height="8.20" fill="#000"/>
<text x="146.80" y="801.70" font-size="20.20" text-anchor="start" font-weight="normal" fill="#222" letter-spacing="0.16">-0.38(± 0.02)x - 10.86(± 0.08)</text>
<text x="147.60" y="829.80" font-size="20.20" text-anchor="start" font-weight="normal" fill="#222" >R<tspan font-size="12" dy="-9">2</tspan><tspan dy="9"> = 0.9772</tspan></text>
<path d="M128.45 905.46 L128.45 1289.80 L651.50 1289.80" fill="none" stroke="#333" stroke-width="1.90" stroke-linejoin="miter"/>
<line x1="129.20" y1="1289.80" x2="129.20" y2="1298.60" stroke="#333" stroke-width="1.90"/>
<text x="129.20" y="1316.30" font-size="16.60" text-anchor="middle" font-weight="normal" fill="#222" >0</text>
<line x1="259.74" y1="1289.80" x2="259.74" y2="1298.60" stroke="#333" stroke-width="1.90"/>
<text x="259.74" y="1316.30" font-size="16.60" text-anchor="middle" font-weight="normal" fill="#222" >200</text>
<line x1="390.28" y1="1289.80" x2="390.28" y2="1298.60" stroke="#333" stroke-width="1.90"/>
<text x="390.28" y="1316.30" font-size="16.60" text-anchor="middle" font-weight="normal" fill="#222" >400</text>
<line x1="520.82" y1="1289.80" x2="520.82" y2="1298.60" stroke="#333" stroke-width="1.90"/>
<text x="520.82" y="1316.30" font-size="16.60" text-anchor="middle" font-weight="normal" fill="#222" >600</text>
<line x1="651.36" y1="1289.80" x2="651.36" y2="1298.60" stroke="#333" stroke-width="1.90"/>
<text x="651.36" y="1316.30" font-size="16.60" text-anchor="middle" font-weight="normal" fill="#222" >800</text>
<line x1="194.47" y1="1289.80" x2="194.47" y2="1294.50" stroke="#333" stroke-width="1.90"/>
<line x1="325.01" y1="1289.80" x2="325.01" y2="1294.50" stroke="#333" stroke-width="1.90"/>
<line x1="455.55" y1="1289.80" x2="455.55" y2="1294.50" stroke="#333" stroke-width="1.90"/>
<line x1="586.09" y1="1289.80" x2="586.09" y2="1294.50" stroke="#333" stroke-width="1.90"/>
<line x1="119.65" y1="1289.80" x2="128.45" y2="1289.80" stroke="#333" stroke-width="1.90"/>
<text x="116.50" y="1295.00" font-size="16.60" text-anchor="end" font-weight="normal" fill="#222" >0.00</text>
<line x1="119.65" y1="1219.92" x2="128.45" y2="1219.92" stroke="#333" stroke-width="1.90"/>
<text x="116.50" y="1225.12" font-size="16.60" text-anchor="end" font-weight="normal" fill="#222" >0.01</text>
<line x1="119.65" y1="1150.04" x2="128.45" y2="1150.04" stroke="#333" stroke-width="1.90"/>
<text x="116.50" y="1155.24" font-size="16.60" text-anchor="end" font-weight="normal" fill="#222" >0.02</text>
<line x1="119.65" y1="1080.16" x2="128.45" y2="1080.16" stroke="#333" stroke-width="1.90"/>
<text x="116.50" y="1085.36" font-size="16.60" text-anchor="end" font-weight="normal" fill="#222" >0.03</text>
<line x1="119.65" y1="1010.28" x2="128.45" y2="1010.28" stroke="#333" stroke-width="1.90"/>
<text x="116.50" y="1015.48" font-size="16.60" text-anchor="end" font-weight="normal" fill="#222" >0.04</text>
<line x1="119.65" y1="940.40" x2="128.45" y2="940.40" stroke="#333" stroke-width="1.90"/>
<text x="116.50" y="945.60" font-size="16.60" text-anchor="end" font-weight="normal" fill="#222" >0.05</text>
<line x1="123.75" y1="1254.86" x2="128.45" y2="1254.86" stroke="#333" stroke-width="1.90"/>
<line x1="123.75" y1="1184.98" x2="128.45" y2="1184.98" stroke="#333" stroke-width="1.90"/>
<line x1="123.75" y1="1115.10" x2="128.45" y2="1115.10" stroke="#333" stroke-width="1.90"/>
<line x1="123.75" y1="1045.22" x2="128.45" y2="1045.22" stroke="#333" stroke-width="1.90"/>
<line x1="123.75" y1="975.34" x2="128.45" y2="975.34" stroke="#333" stroke-width="1.90"/>
<line x1="123.75" y1="905.46" x2="128.45" y2="905.46" stroke="#333" stroke-width="1.90"/>
<text x="390.50" y="1347.30" font-size="20.30" text-anchor="middle" font-weight="normal" fill="#222" letter-spacing="0.22">Time (min)</text>
<text transform="translate(54.00 1088.20) rotate(-90)" font-size="20.30" text-anchor="middle" fill="#222" letter-spacing="0.22">H<tspan font-size="12.5" dy="7.7">2</tspan><tspan dy="-7.7"> (mmol)</tspan></text>
<text transform="translate(0.50 936.20) scale(0.950 1)" font-size="31.00" text-anchor="start" font-weight="bold" fill="#000" stroke="#000" stroke-width="0.35">c</text>
<path d="M129.21 1289.61 L131.84 1289.33 L134.46 1289.03 L137.08 1288.69 L139.70 1288.33 L142.33 1287.95 L144.95 1287.55 L147.57 1287.13 L150.19 1286.69 L152.80 1286.23 L155.42 1285.76 L158.04 1285.28 L160.65 1284.80 L163.27 1284.30 L165.88 1283.80 L168.50 1283.30 L171.11 1282.79 L173.72 1282.28 L176.33 1281.77 L178.95 1281.26 L181.56 1280.73 L184.17 1280.20 L186.77 1279.67 L189.38 1279.12 L191.99 1278.56 L194.60 1277.99 L197.21 1277.41 L199.81 1276.81 L202.42 1276.20 L205.02 1275.57 L207.63 1274.94 L210.23 1274.29 L212.84 1273.63 L215.44 1272.97 L218.04 1272.29 L220.64 1271.60 L223.25 1270.91 L225.85 1270.21 L228.45 1269.50 L231.05 1268.79 L233.65 1268.06 L236.25 1267.34 L238.85 1266.60 L241.45 1265.87 L244.05 1265.13 L246.65 1264.39 L249.25 1263.64 L251.84 1262.89 L254.44 1262.14 L257.04 1261.39 L259.64 1260.65 L262.23 1259.90 L264.83 1259.15 L267.43 1258.40 L270.02 1257.65 L272.62 1256.91 L275.22 1256.17 L277.81 1255.44 L280.41 1254.70 L283.00 1253.97 L285.60 1253.24 L288.19 1252.52 L290.79 1251.79 L293.39 1251.07 L295.98 1250.35 L298.58 1249.64 L301.17 1248.93 L303.77 1248.22 L306.36 1247.51 L308.96 1246.81 L311.55 1246.11 L314.15 1245.41 L316.74 1244.72 L319.34 1244.03 L321.93 1243.34 L324.53 1242.65 L327.12 1241.97 L329.72 1241.29 L332.31 1240.62 L334.91 1239.94 L337.50 1239.27 L340.10 1238.61 L342.70 1237.94 L345.29 1237.28 L347.89 1236.62 L350.49 1235.97 L353.08 1235.32 L355.68 1234.67 L358.28 1234.02 L360.88 1233.38 L363.47 1232.74 L366.07 1232.11 L368.67 1231.48 L371.27 1230.85 L373.87 1230.22 L376.47 1229.60 L379.07 1228.98 L381.67 1228.37 L384.27 1227.75 L386.87 1227.15 L389.47 1226.54 L392.07 1225.94 L394.67 1225.34 L397.28 1224.75 L399.88 1224.15 L402.48 1223.57 L405.09 1222.98 L407.69 1222.40 L410.30 1221.82 L412.90 1221.25 L415.51 1220.68 L418.11 1220.11 L420.72 1219.55 L423.33 1218.99 L425.94 1218.43 L428.54 1217.88 L431.15 1217.33 L433.76 1216.79 L436.37 1216.24 L438.99 1215.71 L441.60 1215.17 L444.21 1214.64 L446.82 1214.12 L449.44 1213.59 L452.05 1213.07 L454.67 1212.56 L457.28 1212.05 L459.90 1211.54 L462.52 1211.03 L465.14 1210.53 L467.76 1210.04 L470.38 1209.55 L473.00 1209.06 L475.62 1208.57 L478.24 1208.09 L480.86 1207.62 L483.49 1207.14 L486.11 1206.67 L488.74 1206.21 L491.36 1205.75 L493.99 1205.29 L496.62 1204.84 L499.25 1204.39 L501.88 1203.94 L504.51 1203.50 L507.15 1203.07 L509.78 1202.64 L512.41 1202.21 L515.05 1201.78 L517.68 1201.36 L520.32 1200.95 L522.96 1200.54 L525.60 1200.13 L528.24 1199.72 L530.88 1199.33 L533.53 1198.93 L536.17 1198.54 L538.82 1198.15 L541.46 1197.77 L544.11 1197.39 L546.76 1197.02 L549.41 1196.65 L552.06 1196.29 L554.71 1195.93 L557.36 1195.57 L560.02 1195.22 L562.67 1194.87 L565.33 1194.53 L567.99 1194.19 L570.65 1193.86 L573.31 1193.53 L575.97 1193.20 L578.64 1192.88 L581.30 1192.57 L583.97 1192.26 L586.64 1191.95 L589.31 1191.65 L591.98 1191.35 L594.65 1191.06 L597.32 1190.77 L600.00 1190.49 L602.67 1190.21 L605.35 1189.93 L608.03 1189.66 L610.71 1189.40 L613.39 1189.14 L616.07 1188.88 L618.76 1188.63 L621.45 1188.39 L624.13 1188.15 L626.82 1187.91 L629.52 1187.68 L632.21 1187.45 L634.90 1187.23 L637.60 1187.01 L640.30 1186.80 L643.00 1186.59 L645.70 1186.39 L648.40 1186.19 L651.10 1186.00" fill="none" stroke="#8038f8" stroke-width="2.00" stroke-linecap="round" stroke-linejoin="round"/>
<path d="M129.21 1289.62 L132.38 1289.19 L135.52 1288.69 L138.63 1288.12 L141.72 1287.47 L144.78 1286.76 L147.82 1285.98 L150.84 1285.13 L153.83 1284.22 L156.80 1283.25 L159.75 1282.22 L162.67 1281.13 L165.58 1279.98 L168.46 1278.78 L171.32 1277.52 L174.17 1276.22 L176.99 1274.86 L179.80 1273.45 L182.59 1272.00 L185.35 1270.50 L188.11 1268.96 L190.84 1267.38 L193.56 1265.76 L196.27 1264.10 L198.96 1262.40 L201.63 1260.67 L204.29 1258.91 L206.94 1257.12 L209.57 1255.29 L212.19 1253.44 L214.80 1251.56 L217.40 1249.66 L219.99 1247.74 L222.56 1245.80 L225.13 1243.83 L227.69 1241.85 L230.24 1239.86 L232.78 1237.85 L235.31 1235.82 L237.83 1233.79 L240.35 1231.75 L242.86 1229.70 L245.37 1227.65 L247.87 1225.59 L250.36 1223.53 L252.85 1221.47 L255.34 1219.41 L257.83 1217.36 L260.31 1215.30 L262.78 1213.25 L265.26 1211.20 L267.73 1209.15 L270.19 1207.10 L272.65 1205.05 L275.11 1203.00 L277.57 1200.96 L280.02 1198.91 L282.47 1196.87 L284.92 1194.82 L287.36 1192.78 L289.80 1190.73 L292.23 1188.69 L294.66 1186.64 L297.09 1184.60 L299.52 1182.55 L301.94 1180.51 L304.36 1178.46 L306.78 1176.41 L309.19 1174.36 L311.60 1172.32 L314.01 1170.27 L316.41 1168.22 L318.82 1166.16 L321.21 1164.11 L323.61 1162.06 L326.00 1160.00 L328.39 1157.94 L330.78 1155.88 L333.16 1153.82 L335.54 1151.75 L337.92 1149.69 L340.30 1147.62 L342.67 1145.55 L345.04 1143.48 L347.41 1141.40 L349.77 1139.32 L352.14 1137.24 L354.50 1135.15 L356.85 1133.06 L359.21 1130.97 L361.56 1128.88 L363.91 1126.78 L366.26 1124.68 L368.60 1122.57 L370.94 1120.46 L373.29 1118.35 L375.62 1116.23 L377.96 1114.11 L380.29 1111.99 L382.62 1109.85 L384.95 1107.72 L387.28 1105.58 L389.60 1103.44 L391.93 1101.29 L394.25 1099.13 L396.56 1096.97 L398.88 1094.81 L401.19 1092.64 L403.51 1090.46 L405.82 1088.28 L408.12 1086.09 L410.43 1083.90 L412.73 1081.70 L415.04 1079.50 L417.34 1077.29 L419.64 1075.07 L421.93 1072.85 L424.23 1070.62 L426.52 1068.38 L428.82 1066.14 L431.11 1063.90 L433.41 1061.66 L435.71 1059.41 L438.01 1057.17 L440.32 1054.92 L442.63 1052.68 L444.94 1050.44 L447.26 1048.20 L449.58 1045.97 L451.91 1043.74 L454.25 1041.52 L456.60 1039.30 L458.95 1037.09 L461.32 1034.89 L463.69 1032.70 L466.08 1030.52 L468.47 1028.35 L470.88 1026.19 L473.30 1024.05 L475.73 1021.92 L478.18 1019.80 L480.64 1017.70 L483.11 1015.62 L485.60 1013.55 L488.11 1011.51 L490.63 1009.48 L493.18 1007.48 L495.73 1005.50 L498.31 1003.55 L500.90 1001.63 L503.51 999.75 L506.14 997.91 L508.79 996.10 L511.45 994.34 L514.14 992.63 L516.84 990.96 L519.56 989.34 L522.30 987.78 L525.06 986.28 L527.83 984.84 L530.63 983.46 L533.45 982.15 L536.29 980.90 L539.14 979.73 L542.02 978.63 L544.92 977.61 L547.83 976.66 L550.77 975.78 L553.73 974.96 L556.70 974.21 L559.69 973.52 L562.70 972.89 L565.72 972.31 L568.76 971.79 L571.82 971.31 L574.89 970.88 L577.98 970.50 L581.08 970.15 L584.19 969.85 L587.32 969.57 L590.46 969.33 L593.61 969.12 L596.77 968.94 L599.95 968.78 L603.13 968.63 L606.33 968.51 L609.53 968.40 L612.75 968.30 L615.97 968.22 L619.20 968.13 L622.43 968.05 L625.68 967.97 L628.93 967.89 L632.18 967.80 L635.44 967.71 L638.71 967.60 L641.98 967.48 L645.26 967.34 L648.53 967.18 L651.82 967.00" fill="none" stroke="#3ce89a" stroke-width="2.00" stroke-linecap="round" stroke-linejoin="round"/>
<path d="M129.20 1289.60 L131.49 1288.78 L133.68 1287.86 L135.79 1286.85 L137.81 1285.76 L139.76 1284.58 L141.63 1283.32 L143.44 1282.00 L145.18 1280.60 L146.86 1279.14 L148.49 1277.62 L150.08 1276.05 L151.62 1274.43 L153.12 1272.77 L154.59 1271.07 L156.03 1269.33 L157.45 1267.56 L158.84 1265.77 L160.23 1263.95 L161.61 1262.13 L162.98 1260.29 L164.36 1258.44 L165.74 1256.59 L167.13 1254.74 L168.53 1252.89 L169.93 1251.04 L171.33 1249.19 L172.74 1247.34 L174.15 1245.49 L175.55 1243.64 L176.96 1241.78 L178.37 1239.93 L179.77 1238.07 L181.17 1236.22 L182.56 1234.36 L183.94 1232.50 L185.32 1230.64 L186.69 1228.78 L188.05 1226.91 L189.40 1225.05 L190.75 1223.18 L192.08 1221.31 L193.41 1219.45 L194.72 1217.57 L196.04 1215.70 L197.34 1213.83 L198.64 1211.95 L199.93 1210.08 L201.22 1208.20 L202.50 1206.32 L203.77 1204.44 L205.04 1202.55 L206.31 1200.67 L207.57 1198.78 L208.82 1196.89 L210.08 1195.00 L211.33 1193.11 L212.57 1191.22 L213.82 1189.32 L215.06 1187.43 L216.30 1185.53 L217.54 1183.63 L218.78 1181.73 L220.02 1179.83 L221.25 1177.92 L222.49 1176.01 L223.72 1174.11 L224.96 1172.20 L226.20 1170.28 L227.43 1168.37 L228.67 1166.46 L229.91 1164.54 L231.16 1162.62 L232.40 1160.70 L233.65 1158.78 L234.90 1156.85 L236.14 1154.93 L237.39 1153.00 L238.64 1151.07 L239.89 1149.14 L241.14 1147.21 L242.39 1145.27 L243.64 1143.33 L244.89 1141.40 L246.14 1139.46 L247.39 1137.51 L248.64 1135.57 L249.88 1133.62 L251.12 1131.67 L252.36 1129.72 L253.60 1127.77 L254.84 1125.82 L256.07 1123.86 L257.30 1121.90 L258.53 1119.94 L259.75 1117.98 L260.97 1116.02 L262.18 1114.05 L263.39 1112.09 L264.60 1110.12 L265.80 1108.14 L267.00 1106.17 L268.19 1104.19 L269.38 1102.22 L270.57 1100.24 L271.75 1098.26 L272.93 1096.28 L274.10 1094.29 L275.27 1092.31 L276.44 1090.33 L277.61 1088.34 L278.77 1086.35 L279.93 1084.37 L281.09 1082.38 L282.25 1080.39 L283.40 1078.41 L284.56 1076.42 L285.71 1074.43 L286.87 1072.45 L288.02 1070.46 L289.17 1068.47 L290.33 1066.49 L291.48 1064.50 L292.63 1062.52 L293.79 1060.54 L294.94 1058.56 L296.10 1056.58 L297.26 1054.60 L298.42 1052.62 L299.58 1050.65 L300.74 1048.68 L301.91 1046.70 L303.08 1044.74 L304.25 1042.77 L305.42 1040.81 L306.60 1038.84 L307.78 1036.89 L308.97 1034.93 L310.16 1032.98 L311.35 1031.03 L312.55 1029.08 L313.75 1027.14 L314.96 1025.20 L316.17 1023.26 L317.39 1021.33 L318.61 1019.40 L319.84 1017.48 L321.08 1015.56 L322.32 1013.64 L323.57 1011.73 L324.83 1009.82 L326.09 1007.92 L327.36 1006.02 L328.64 1004.13 L329.93 1002.24 L331.22 1000.36 L332.52 998.48 L333.83 996.61 L335.15 994.74 L336.48 992.88 L337.82 991.03 L339.17 989.19 L340.55 987.37 L341.94 985.57 L343.37 983.79 L344.84 982.05 L346.34 980.35 L347.89 978.69 L349.49 977.08 L351.14 975.52 L352.85 974.02 L354.63 972.58 L356.47 971.22 L358.38 969.93 L360.34 968.71 L362.36 967.58 L364.42 966.55 L366.53 965.60 L368.68 964.76 L370.87 964.02 L373.09 963.39 L375.33 962.87 L377.60 962.45 L379.89 962.12 L382.20 961.88 L384.52 961.70 L386.86 961.59 L389.20 961.52 L391.55 961.51 L393.90 961.53 L396.25 961.57 L398.59 961.63 L400.93 961.70 L403.26 961.76 L405.57 961.82 L407.86 961.85 L410.14 961.86 L412.38 961.82 L414.61 961.74 L416.80 961.60" fill="none" stroke="#fff020" stroke-width="2.00" stroke-linecap="round" stroke-linejoin="round"/>
<path d="M129.21 1289.61 L131.67 1288.57 L134.03 1287.39 L136.27 1286.07 L138.41 1284.64 L140.44 1283.09 L142.38 1281.43 L144.22 1279.68 L145.97 1277.83 L147.64 1275.89 L149.23 1273.89 L150.74 1271.81 L152.17 1269.67 L153.53 1267.48 L154.83 1265.23 L156.07 1262.94 L157.25 1260.61 L158.37 1258.23 L159.45 1255.82 L160.48 1253.38 L161.47 1250.91 L162.42 1248.42 L163.33 1245.90 L164.22 1243.36 L165.08 1240.81 L165.91 1238.24 L166.73 1235.67 L167.54 1233.09 L168.33 1230.51 L169.12 1227.94 L169.91 1225.36 L170.69 1222.79 L171.46 1220.23 L172.23 1217.66 L172.99 1215.10 L173.75 1212.54 L174.51 1209.98 L175.26 1207.43 L176.01 1204.87 L176.75 1202.32 L177.49 1199.77 L178.23 1197.23 L178.96 1194.68 L179.69 1192.14 L180.41 1189.60 L181.14 1187.06 L181.86 1184.52 L182.58 1181.99 L183.29 1179.46 L184.01 1176.92 L184.72 1174.39 L185.43 1171.86 L186.14 1169.33 L186.85 1166.81 L187.55 1164.28 L188.26 1161.76 L188.96 1159.23 L189.66 1156.71 L190.36 1154.19 L191.06 1151.67 L191.76 1149.15 L192.46 1146.63 L193.17 1144.11 L193.87 1141.59 L194.57 1139.07 L195.27 1136.55 L195.97 1134.03 L196.67 1131.52 L197.37 1129.00 L198.08 1126.48 L198.78 1123.96 L199.49 1121.45 L200.20 1118.93 L200.91 1116.41 L201.62 1113.89 L202.33 1111.37 L203.05 1108.85 L203.77 1106.34 L204.49 1103.82 L205.21 1101.29 L205.94 1098.77 L206.67 1096.25 L207.40 1093.73 L208.14 1091.20 L208.88 1088.68 L209.62 1086.15 L210.37 1083.63 L211.12 1081.10 L211.88 1078.57 L212.64 1076.04 L213.40 1073.50 L214.17 1070.97 L214.94 1068.44 L215.72 1065.90 L216.50 1063.36 L217.29 1060.82 L218.09 1058.28 L218.89 1055.73 L219.69 1053.18 L220.50 1050.64 L221.32 1048.08 L222.15 1045.53 L222.98 1042.98 L223.81 1040.42 L224.66 1037.86 L225.51 1035.30 L226.37 1032.73 L227.23 1030.17 L228.12 1027.61 L229.02 1025.05 L229.93 1022.52 L230.88 1019.99 L231.85 1017.49 L232.85 1015.01 L233.89 1012.55 L234.96 1010.13 L236.07 1007.75 L237.23 1005.40 L238.44 1003.09 L239.70 1000.84 L241.02 998.63 L242.39 996.47 L243.83 994.38 L245.33 992.34 L246.90 990.37 L248.55 988.48 L250.27 986.65 L252.07 984.90 L253.95 983.23 L255.92 981.65 L257.98 980.15 L260.12 978.74 L262.33 977.40 L264.61 976.14 L266.95 974.96 L269.34 973.85 L271.79 972.80 L274.28 971.82 L276.82 970.89 L279.38 970.03 L281.97 969.22 L284.58 968.47 L287.20 967.76 L289.84 967.10 L292.47 966.49 L295.11 965.91 L297.75 965.37 L300.39 964.87 L303.02 964.41 L305.66 963.98 L308.30 963.58 L310.94 963.21 L313.57 962.87 L316.21 962.55 L318.85 962.26 L321.48 961.99 L324.12 961.74 L326.75 961.51 L329.39 961.29 L332.02 961.10 L334.65 960.91 L337.28 960.73 L339.91 960.57 L342.54 960.41 L345.17 960.25 L347.79 960.10 L350.42 959.95 L353.04 959.81 L355.66 959.66 L358.29 959.52 L360.91 959.38 L363.53 959.24 L366.14 959.10 L368.76 958.96 L371.38 958.83 L374.00 958.70 L376.62 958.58 L379.24 958.45 L381.86 958.33 L384.48 958.21 L387.10 958.10 L389.72 957.99 L392.35 957.88 L394.97 957.78 L397.60 957.68 L400.23 957.59 L402.86 957.50 L405.49 957.41 L408.12 957.33 L410.76 957.26 L413.40 957.19 L416.04 957.12 L418.69 957.06 L421.34 957.01 L423.99 956.96 L426.64 956.91 L429.30 956.88 L431.96 956.85 L434.63 956.82 L437.30 956.80" fill="none" stroke="#b73838" stroke-width="2.00" stroke-linecap="round" stroke-linejoin="round"/>
<path d="M129.20 1289.61 L131.56 1288.62 L133.83 1287.56 L136.03 1286.43 L138.16 1285.22 L140.21 1283.94 L142.19 1282.60 L144.11 1281.19 L145.96 1279.73 L147.75 1278.20 L149.48 1276.61 L151.16 1274.97 L152.77 1273.28 L154.34 1271.53 L155.85 1269.74 L157.32 1267.91 L158.74 1266.03 L160.12 1264.11 L161.46 1262.15 L162.76 1260.16 L164.02 1258.13 L165.25 1256.08 L166.44 1253.99 L167.61 1251.89 L168.75 1249.75 L169.87 1247.60 L170.97 1245.43 L172.04 1243.24 L173.10 1241.03 L174.15 1238.82 L175.18 1236.60 L176.20 1234.37 L177.21 1232.14 L178.22 1229.90 L179.23 1227.67 L180.23 1225.43 L181.23 1223.20 L182.23 1220.97 L183.22 1218.74 L184.21 1216.51 L185.20 1214.28 L186.18 1212.05 L187.16 1209.82 L188.14 1207.59 L189.12 1205.36 L190.09 1203.13 L191.06 1200.90 L192.02 1198.68 L192.99 1196.45 L193.95 1194.22 L194.90 1192.00 L195.86 1189.77 L196.81 1187.54 L197.76 1185.32 L198.70 1183.09 L199.64 1180.87 L200.58 1178.64 L201.51 1176.41 L202.44 1174.19 L203.37 1171.96 L204.30 1169.74 L205.22 1167.51 L206.14 1165.28 L207.05 1163.06 L207.96 1160.83 L208.87 1158.60 L209.78 1156.38 L210.68 1154.15 L211.58 1151.92 L212.47 1149.69 L213.36 1147.47 L214.25 1145.24 L215.14 1143.01 L216.02 1140.78 L216.90 1138.55 L217.77 1136.32 L218.64 1134.08 L219.51 1131.85 L220.37 1129.62 L221.24 1127.39 L222.09 1125.15 L222.95 1122.92 L223.80 1120.68 L224.64 1118.44 L225.49 1116.21 L226.33 1113.97 L227.17 1111.73 L228.00 1109.49 L228.83 1107.25 L229.66 1105.01 L230.48 1102.76 L231.30 1100.52 L232.12 1098.27 L232.94 1096.03 L233.76 1093.78 L234.57 1091.53 L235.39 1089.28 L236.21 1087.03 L237.03 1084.77 L237.84 1082.52 L238.66 1080.26 L239.49 1078.01 L240.31 1075.75 L241.14 1073.49 L241.96 1071.23 L242.80 1068.96 L243.63 1066.70 L244.47 1064.43 L245.32 1062.17 L246.17 1059.90 L247.02 1057.63 L247.88 1055.35 L248.75 1053.08 L249.63 1050.80 L250.51 1048.53 L251.39 1046.25 L252.29 1043.96 L253.19 1041.68 L254.10 1039.39 L255.03 1037.11 L255.96 1034.82 L256.90 1032.53 L257.85 1030.24 L258.81 1027.95 L259.80 1025.67 L260.79 1023.40 L261.81 1021.13 L262.85 1018.88 L263.91 1016.65 L264.99 1014.44 L266.11 1012.24 L267.24 1010.07 L268.41 1007.93 L269.61 1005.81 L270.85 1003.73 L272.11 1001.68 L273.42 999.66 L274.76 997.68 L276.15 995.75 L277.57 993.85 L279.04 992.01 L280.56 990.21 L282.12 988.46 L283.74 986.76 L285.40 985.12 L287.11 983.54 L288.87 982.01 L290.67 980.53 L292.52 979.12 L294.41 977.76 L296.34 976.46 L298.32 975.21 L300.33 974.03 L302.38 972.91 L304.47 971.85 L306.59 970.85 L308.75 969.91 L310.94 969.03 L313.17 968.22 L315.42 967.46 L317.70 966.75 L320.01 966.10 L322.34 965.50 L324.69 964.95 L327.07 964.44 L329.46 963.98 L331.87 963.56 L334.29 963.18 L336.73 962.83 L339.18 962.52 L341.63 962.24 L344.10 961.98 L346.56 961.76 L349.04 961.56 L351.51 961.38 L353.99 961.22 L356.47 961.08 L358.94 960.96 L361.42 960.85 L363.90 960.76 L366.37 960.68 L368.84 960.61 L371.31 960.55 L373.77 960.49 L376.23 960.44 L378.68 960.40 L381.12 960.35 L383.56 960.31 L385.99 960.27 L388.41 960.22 L390.83 960.17 L393.23 960.11 L395.62 960.04 L398.00 959.96 L400.37 959.88 L402.72 959.77 L405.06 959.66 L407.39 959.52 L409.70 959.37 L412.00 959.20" fill="none" stroke="#ff3a3a" stroke-width="2.00" stroke-linecap="round" stroke-linejoin="round"/>
<line x1="509.8" y1="1035.10" x2="556.1" y2="1035.10" stroke="#8038f8" stroke-width="2.0"/>
<text x="561.50" y="1041.10" font-size="20.00" text-anchor="start" font-weight="normal" fill="#222" letter-spacing="0.4">0.06 mM*</text>
<line x1="509.8" y1="1060.40" x2="556.1" y2="1060.40" stroke="#3ce89a" stroke-width="2.0"/>
<text x="561.50" y="1066.40" font-size="20.00" text-anchor="start" font-weight="normal" fill="#222" letter-spacing="0.4">0.11 mM</text>
<line x1="509.8" y1="1085.70" x2="556.1" y2="1085.70" stroke="#fff020" stroke-width="2.0"/>
<text x="561.50" y="1091.70" font-size="20.00" text-anchor="start" font-weight="normal" fill="#222" letter-spacing="0.4">0.22 mM</text>
<line x1="509.8" y1="1111.00" x2="556.1" y2="1111.00" stroke="#ff3a3a" stroke-width="2.0"/>
<text x="561.50" y="1117.00" font-size="20.00" text-anchor="start" font-weight="normal" fill="#222" letter-spacing="0.4">0.33 mM</text>
<line x1="509.8" y1="1136.30" x2="556.1" y2="1136.30" stroke="#b73838" stroke-width="2.0"/>
<text x="561.50" y="1142.30" font-size="20.00" text-anchor="start" font-weight="normal" fill="#222" letter-spacing="0.4">0.44 mM</text>
<path d="M125.70 1371.70 L125.70 1756.00 L649.50 1756.00" fill="none" stroke="#333" stroke-width="1.90" stroke-linejoin="miter"/>
<line x1="125.70" y1="1756.00" x2="125.70" y2="1764.80" stroke="#333" stroke-width="1.90"/>
<text x="125.70" y="1782.00" font-size="16.60" text-anchor="middle" font-weight="normal" fill="#222" >-9.5</text>
<line x1="220.85" y1="1756.00" x2="220.85" y2="1764.80" stroke="#333" stroke-width="1.90"/>
<text x="220.85" y="1782.00" font-size="16.60" text-anchor="middle" font-weight="normal" fill="#222" >-9.0</text>
<line x1="316.00" y1="1756.00" x2="316.00" y2="1764.80" stroke="#333" stroke-width="1.90"/>
<text x="316.00" y="1782.00" font-size="16.60" text-anchor="middle" font-weight="normal" fill="#222" >-8.5</text>
<line x1="411.15" y1="1756.00" x2="411.15" y2="1764.80" stroke="#333" stroke-width="1.90"/>
<text x="411.15" y="1782.00" font-size="16.60" text-anchor="middle" font-weight="normal" fill="#222" >-8.0</text>
<line x1="506.30" y1="1756.00" x2="506.30" y2="1764.80" stroke="#333" stroke-width="1.90"/>
<text x="506.30" y="1782.00" font-size="16.60" text-anchor="middle" font-weight="normal" fill="#222" >-7.5</text>
<line x1="601.45" y1="1756.00" x2="601.45" y2="1764.80" stroke="#333" stroke-width="1.90"/>
<text x="601.45" y="1782.00" font-size="16.60" text-anchor="middle" font-weight="normal" fill="#222" >-7.0</text>
<line x1="173.28" y1="1756.00" x2="173.28" y2="1760.70" stroke="#333" stroke-width="1.90"/>
<line x1="268.43" y1="1756.00" x2="268.43" y2="1760.70" stroke="#333" stroke-width="1.90"/>
<line x1="363.57" y1="1756.00" x2="363.57" y2="1760.70" stroke="#333" stroke-width="1.90"/>
<line x1="458.73" y1="1756.00" x2="458.73" y2="1760.70" stroke="#333" stroke-width="1.90"/>
<line x1="553.88" y1="1756.00" x2="553.88" y2="1760.70" stroke="#333" stroke-width="1.90"/>
<line x1="649.03" y1="1756.00" x2="649.03" y2="1760.70" stroke="#333" stroke-width="1.90"/>
<line x1="116.90" y1="1371.70" x2="125.70" y2="1371.70" stroke="#333" stroke-width="1.90"/>
<text x="112.60" y="1376.90" font-size="16.60" text-anchor="end" font-weight="normal" fill="#222" >-9.0</text>
<line x1="116.90" y1="1435.75" x2="125.70" y2="1435.75" stroke="#333" stroke-width="1.90"/>
<text x="112.60" y="1440.95" font-size="16.60" text-anchor="end" font-weight="normal" fill="#222" >-9.5</text>
<line x1="116.90" y1="1499.80" x2="125.70" y2="1499.80" stroke="#333" stroke-width="1.90"/>
<text x="112.60" y="1505.00" font-size="16.60" text-anchor="end" font-weight="normal" fill="#222" >-10.0</text>
<line x1="116.90" y1="1563.85" x2="125.70" y2="1563.85" stroke="#333" stroke-width="1.90"/>
<text x="112.60" y="1569.05" font-size="16.60" text-anchor="end" font-weight="normal" fill="#222" >-10.5</text>
<line x1="116.90" y1="1627.90" x2="125.70" y2="1627.90" stroke="#333" stroke-width="1.90"/>
<text x="112.60" y="1633.10" font-size="16.60" text-anchor="end" font-weight="normal" fill="#222" >-11.0</text>
<line x1="116.90" y1="1691.95" x2="125.70" y2="1691.95" stroke="#333" stroke-width="1.90"/>
<text x="112.60" y="1697.15" font-size="16.60" text-anchor="end" font-weight="normal" fill="#222" >-11.5</text>
<line x1="116.90" y1="1756.00" x2="125.70" y2="1756.00" stroke="#333" stroke-width="1.90"/>
<text x="112.60" y="1761.20" font-size="16.60" text-anchor="end" font-weight="normal" fill="#222" >-12.0</text>
<line x1="121.00" y1="1403.73" x2="125.70" y2="1403.73" stroke="#333" stroke-width="1.90"/>
<line x1="121.00" y1="1467.78" x2="125.70" y2="1467.78" stroke="#333" stroke-width="1.90"/>
<line x1="121.00" y1="1531.83" x2="125.70" y2="1531.83" stroke="#333" stroke-width="1.90"/>
<line x1="121.00" y1="1595.88" x2="125.70" y2="1595.88" stroke="#333" stroke-width="1.90"/>
<line x1="121.00" y1="1659.92" x2="125.70" y2="1659.92" stroke="#333" stroke-width="1.90"/>
<line x1="121.00" y1="1723.97" x2="125.70" y2="1723.97" stroke="#333" stroke-width="1.90"/>
<text x="387.00" y="1812.00" font-size="20.30" text-anchor="middle" font-weight="normal" fill="#222" letter-spacing="0.0">ln([cat.])</text>
<text transform="translate(66.30 1562.80) rotate(-90)" font-size="20.30" text-anchor="middle" fill="#222" letter-spacing="0.22">ln(rate)</text>
<text transform="translate(0.00 1391.80) scale(0.900 1)" font-size="33.00" text-anchor="start" font-weight="bold" fill="#000" stroke="#000" stroke-width="0.35">d</text>
<line x1="197.7" y1="1716.6" x2="593.7" y2="1390" stroke="#111" stroke-width="2"/>
<rect x="193.20" y="1708.00" width="8.20" height="8.20" fill="#000"/>
<rect x="324.20" y="1635.30" width="8.20" height="8.20" fill="#000"/>
<rect x="456.60" y="1443.80" width="8.20" height="8.20" fill="#000"/>
<rect x="533.70" y="1445.00" width="8.20" height="8.20" fill="#000"/>
<rect x="588.40" y="1397.10" width="8.20" height="8.20" fill="#000"/>
<text x="399.80" y="1714.90" font-size="20.00" text-anchor="start" font-weight="normal" fill="#222" >1.23(± 0.17)x - 0.49(± 1.33)</text>
<text x="399.80" y="1743.00" font-size="20.00" text-anchor="start" font-weight="normal" fill="#222" >R<tspan font-size="12" dy="-9">2</tspan><tspan dy="9"> = 0.9475</tspan></text>
</svg>
</body></html>
